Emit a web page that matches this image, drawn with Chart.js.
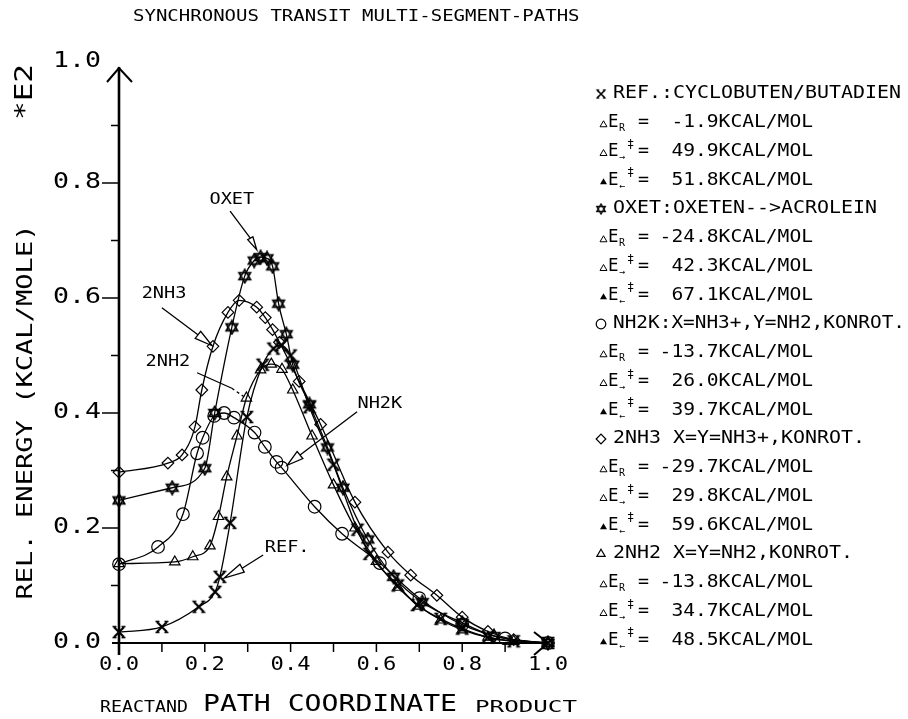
<!DOCTYPE html>
<html><head><meta charset="utf-8">
<script src="https://cdn.jsdelivr.net/npm/chart.js@4.4.1/dist/chart.umd.min.js"></script>
<style>html,body{margin:0;padding:0;background:#fff;}#wrap{position:relative;width:908px;height:719px;}</style>
</head><body><div id="wrap"><canvas id="c" width="908" height="719"></canvas></div>
<script>
// ---------- DATA ----------
const titleText = "SYNCHRONOUS TRANSIT MULTI-SEGMENT-PATHS";
const yAxisTitle = "REL. ENERGY (KCAL/MOLE)";
const yAxisScaleNote = "*E2";
const xAxisTitleLeft = "REACTAND";
const xAxisTitleMain = "PATH COORDINATE";
const xAxisTitleRight = "PRODUCT";

const xTickValues = [0.0, 0.2, 0.4, 0.6, 0.8, 1.0];
const xTickLabels = ["0.0", "0.2", "0.4", "0.6", "0.8", "1.0"];
const yTickValues = [0.0, 0.2, 0.4, 0.6, 0.8, 1.0];
const yTickLabels = ["0.0", "0.2", "0.4", "0.6", "0.8", "1.0"];

const seriesNames = ["REF.", "OXET", "NH2K", "2NH3", "2NH2"];
const legendDescs = ["REF.:CYCLOBUTEN/BUTADIEN", "OXET:OXETEN-->ACROLEIN", "NH2K:X=NH3+,Y=NH2,KONROT.", "2NH3 X=Y=NH3+,KONROT.", "2NH2 X=Y=NH2,KONROT."];
const deltaER   = ["-1.9", "-24.8", "-13.7", "-29.7", "-13.8"];
const deltaEfwd = ["49.9", "42.3", "26.0", "29.8", "34.7"];
const deltaEbwd = ["51.8", "67.1", "39.7", "59.6", "48.5"];

const refX  = [0.0, 0.1, 0.186, 0.224, 0.235, 0.259, 0.298, 0.335, 0.36, 0.378, 0.40, 0.444, 0.50, 0.556, 0.584, 0.65, 0.695, 0.75, 0.80, 0.86, 0.92, 1.0];
const refY  = [0.019, 0.028, 0.063, 0.089, 0.115, 0.209, 0.393, 0.484, 0.512, 0.518, 0.50, 0.41, 0.31, 0.197, 0.155, 0.10, 0.066, 0.042, 0.025, 0.01, 0.003, 0.0];

const oxetX = [0.0, 0.124, 0.2, 0.223, 0.263, 0.293, 0.315, 0.33, 0.345, 0.358, 0.372, 0.39, 0.405, 0.444, 0.486, 0.522, 0.58, 0.64, 0.707, 0.80, 0.874, 1.0];
const oxetY = [0.248, 0.27, 0.304, 0.40, 0.549, 0.638, 0.665, 0.671, 0.669, 0.655, 0.59, 0.537, 0.484, 0.415, 0.34, 0.27, 0.18, 0.115, 0.071, 0.035, 0.012, 0.0];

const nh2kX = [0.0, 0.091, 0.149, 0.182, 0.195, 0.222, 0.245, 0.268, 0.316, 0.34, 0.367, 0.379, 0.456, 0.52, 0.608, 0.70, 0.80, 0.90, 1.0];
const nh2kY = [0.137, 0.167, 0.224, 0.33, 0.357, 0.395, 0.40, 0.392, 0.366, 0.341, 0.315, 0.305, 0.237, 0.19, 0.139, 0.078, 0.032, 0.008, 0.0];

const nh3X  = [0.0, 0.114, 0.147, 0.177, 0.193, 0.219, 0.254, 0.28, 0.321, 0.341, 0.358, 0.374, 0.42, 0.47, 0.55, 0.627, 0.68, 0.741, 0.80, 0.86, 0.92, 1.0];
const nh3Y  = [0.297, 0.313, 0.327, 0.376, 0.44, 0.516, 0.575, 0.596, 0.584, 0.566, 0.545, 0.523, 0.455, 0.38, 0.245, 0.158, 0.118, 0.083, 0.045, 0.02, 0.006, 0.0];

const nh2X  = [0.0, 0.13, 0.172, 0.212, 0.232, 0.251, 0.275, 0.297, 0.33, 0.355, 0.38, 0.405, 0.45, 0.50, 0.55, 0.60, 0.65, 0.70, 0.75, 0.80, 0.86, 0.92, 1.0];
const nh2Y  = [0.138, 0.141, 0.15, 0.169, 0.22, 0.289, 0.36, 0.426, 0.475, 0.485, 0.476, 0.44, 0.36, 0.275, 0.2, 0.142, 0.097, 0.064, 0.04, 0.023, 0.01, 0.003, 0.0];

// ---------- STYLE / LAYOUT ----------
const FONT = 'DejaVu Sans Mono';
function makeMarker(size, draw) {
  const c = document.createElement('canvas');
  c.width = size; c.height = size;
  const g = c.getContext('2d');
  g.strokeStyle = '#000'; g.fillStyle = '#000';
  draw(g, size);
  return c;
}
const hexStar = makeMarker(16, (g, s) => {
  const cx = s / 2, cy = s / 2, r = 6.6;
  g.lineWidth = 1.7;
  for (let t = 0; t < 2; t++) {
    g.beginPath();
    for (let k = 0; k < 3; k++) {
      const a = -Math.PI / 2 + t * Math.PI + k * 2 * Math.PI / 3;
      const px = cx + r * Math.cos(a), py = cy + r * Math.sin(a);
      if (k) g.lineTo(px, py); else g.moveTo(px, py);
    }
    g.closePath(); g.stroke();
  }
});
const xBar = makeMarker(16, (g) => {
  g.lineWidth = 2.2;
  g.beginPath();
  g.moveTo(3, 3); g.lineTo(13, 13);
  g.moveTo(13, 3); g.lineTo(3, 13);
  g.stroke();
  g.lineWidth = 1.6;
  g.beginPath();
  g.moveTo(1.5, 2.5); g.lineTo(5.5, 2.5); g.moveTo(10.5, 2.5); g.lineTo(14.5, 2.5);
  g.moveTo(1.5, 13.5); g.lineTo(5.5, 13.5); g.moveTo(10.5, 13.5); g.lineTo(14.5, 13.5);
  g.stroke();
});

const seriesX = [refX, oxetX, nh2kX, nh3X, nh2X];
const seriesY = [refY, oxetY, nh2kY, nh3Y, nh2Y];
const seriesStyle = [
  { pointStyle: xBar, radius: 6 },
  { pointStyle: hexStar, radius: 6 },
  { pointStyle: 'circle', radius: 6.3 },
  { pointStyle: 'rectRot', radius: 5.8 },
  { pointStyle: 'triangle', radius: 6 }
];

const datasets = seriesNames.map((name, s) => ({
  label: name,
  data: seriesX[s].map((x, i) => ({ x: x, y: seriesY[s][i] })),
  showLine: true,
  borderColor: '#000',
  borderWidth: 1.3,
  pointStyle: seriesStyle[s].pointStyle,
  pointRadius: seriesStyle[s].radius,
  pointBorderColor: '#000',
  pointBackgroundColor: 'rgba(255,255,255,0)',
  pointBorderWidth: 1.2,
  cubicInterpolationMode: 'monotone',
  clip: false
}));

// annotation leaders (data units)
const annotations = [
  { text: "OXET", at: [0.263, 0.770], line: [[0.259, 0.751], [0.306, 0.704]], tip: [0.321, 0.684], small: true },
  { text: "2NH3", at: [0.105, 0.607], line: [[0.100, 0.583], [0.184, 0.536]], tip: [0.217, 0.517] },
  { text: "2NH2", at: [0.114, 0.489], line: [[0.182, 0.470], [0.263, 0.443]], dashTo: [0.292, 0.428] },
  { text: "NH2K", at: [0.608, 0.416], line: [[0.555, 0.402], [0.422, 0.327]], tip: [0.392, 0.309] },
  { text: "REF.", at: [0.392, 0.165], line: [[0.336, 0.153], [0.287, 0.130]], tip: [0.245, 0.113] }
];

function txt(ctx, s, x, y, size, width, align) {
  ctx.save();
  ctx.font = size + 'px "' + FONT + '"';
  ctx.textBaseline = 'middle';
  ctx.textAlign = 'left';
  const w = ctx.measureText(s).width;
  const sx = width ? width / w : 1;
  let x0 = x;
  if (align === 'center') x0 = x - w * sx / 2;
  else if (align === 'right') x0 = x - w * sx;
  ctx.translate(x0, y);
  ctx.scale(sx, 1);
  ctx.fillText(s, 0, 0);
  ctx.restore();
}

function openArrow(ctx, bx, by, tx, ty, halfW) {
  const dx = tx - bx, dy = ty - by, L = Math.hypot(dx, dy);
  const nx = -dy / L, ny = dx / L;
  ctx.beginPath();
  ctx.moveTo(bx + nx * halfW, by + ny * halfW);
  ctx.lineTo(tx, ty);
  ctx.lineTo(bx - nx * halfW, by - ny * halfW);
  ctx.closePath();
  ctx.stroke();
}

const plotterPlugin = {
  id: 'plotter',
  beforeDatasetsDraw(chart) {
    const ctx = chart.ctx, xs = chart.scales.x, ys = chart.scales.y;
    const x0 = xs.getPixelForValue(0), x1 = xs.getPixelForValue(1);
    const y0 = ys.getPixelForValue(0), y1 = ys.getPixelForValue(1);
    ctx.save();
    ctx.strokeStyle = '#000'; ctx.lineCap = 'butt';
    ctx.lineWidth = 2.6;
    ctx.beginPath(); ctx.moveTo(x0, y0 + 12); ctx.lineTo(x0, y1 - 1); ctx.stroke();
    ctx.lineWidth = 2;
    ctx.beginPath(); ctx.moveTo(x0 - 12, y1 + 14); ctx.lineTo(x0, y1); ctx.lineTo(x0 + 13, y1 + 14); ctx.stroke();
    ctx.lineWidth = 2;
    ctx.beginPath(); ctx.moveTo(x0 - 7, y0); ctx.lineTo(x1, y0); ctx.stroke();
    ctx.beginPath(); ctx.moveTo(x1 - 14, y0 - 11); ctx.lineTo(x1, y0); ctx.lineTo(x1 - 14, y0 + 12); ctx.stroke();
    ctx.lineWidth = 1.5;
    for (let k = 1; k < 10; k++) {
      const py = ys.getPixelForValue(k / 10);
      const len = (k % 2 === 0) ? 17 : 8;
      ctx.beginPath(); ctx.moveTo(x0 - len, py); ctx.lineTo(x0, py); ctx.stroke();
    }
    for (let k = 0; k < 10; k++) {
      const px = xs.getPixelForValue(k / 10);
      ctx.beginPath(); ctx.moveTo(px, y0); ctx.lineTo(px, y0 + 9); ctx.stroke();
    }
    ctx.restore();
  },
  afterDraw(chart) {
    const ctx = chart.ctx, xs = chart.scales.x, ys = chart.scales.y;
    ctx.save();
    ctx.fillStyle = '#000'; ctx.strokeStyle = '#000';
    txt(ctx, titleText, 133, 17, 15, titleText.length * 11.45, 'left');
    xTickValues.forEach((v, i) => {
      txt(ctx, xTickLabels[i], xs.getPixelForValue(v), 665, 20, 40, 'center');
    });
    yTickValues.forEach((v, i) => {
      txt(ctx, yTickLabels[i], 101, ys.getPixelForValue(v) - (i === 5 ? 6 : 0), 21, 48, 'right');
    });
    txt(ctx, xAxisTitleLeft, 100, 708, 15, 88, 'left');
    txt(ctx, xAxisTitleMain, 203, 705, 23, 254, 'left');
    txt(ctx, xAxisTitleRight, 475, 708, 15, 102, 'left');
    ctx.save();
    ctx.translate(26, 412); ctx.rotate(-Math.PI / 2);
    txt(ctx, yAxisTitle, 0, 0, 22, 375, 'center');
    ctx.restore();
    ctx.save();
    ctx.translate(26, 92); ctx.rotate(-Math.PI / 2);
    txt(ctx, yAxisScaleNote, 0, 0, 24, 56, 'center');
    ctx.restore();

    ctx.lineWidth = 1.3;
    annotations.forEach(a => {
      const lx = xs.getPixelForValue(a.at[0]), ly = ys.getPixelForValue(a.at[1]);
      txt(ctx, a.text, lx, ly, 16, a.text.length * 11.2, 'center');
      const p0 = [xs.getPixelForValue(a.line[0][0]), ys.getPixelForValue(a.line[0][1])];
      const p1 = [xs.getPixelForValue(a.line[1][0]), ys.getPixelForValue(a.line[1][1])];
      ctx.setLineDash([]);
      ctx.beginPath(); ctx.moveTo(p0[0], p0[1]); ctx.lineTo(p1[0], p1[1]); ctx.stroke();
      if (a.tip) {
        const t = [xs.getPixelForValue(a.tip[0]), ys.getPixelForValue(a.tip[1])];
        openArrow(ctx, p1[0], p1[1], t[0], t[1], a.small ? 3 : 4.5);
      }
      if (a.dashTo) {
        const t = [xs.getPixelForValue(a.dashTo[0]), ys.getPixelForValue(a.dashTo[1])];
        ctx.setLineDash([3, 3]);
        ctx.beginPath(); ctx.moveTo(p1[0], p1[1]); ctx.lineTo(t[0], t[1]); ctx.stroke();
        ctx.setLineDash([]);
      }
    });

    const LX = 601, LY0 = 94, LDY = 28.75;
    const rowsVals = [deltaER, deltaEfwd, deltaEbwd];
    const subs = ["R", "\u2192", "\u2190"];
    seriesNames.forEach((name, s) => {
      const y = LY0 + LDY * 4 * s;
      const st = seriesStyle[s];
      ctx.lineWidth = 1.2;
      if (typeof st.pointStyle === 'string') {
        ctx.fillStyle = '#fff';
        Chart.helpers.drawPoint(ctx, { pointStyle: st.pointStyle, radius: 4.8, borderWidth: 1.3, rotation: 0 }, LX, y);
        ctx.fillStyle = '#000';
      } else {
        ctx.drawImage(st.pointStyle, LX - 6, y - 6, 12, 12);
      }
      const d = legendDescs[s];
      const adv = Math.min(12, (905 - 613) / d.length);
      txt(ctx, d, 613, y, 17, d.length * adv, 'left');
      for (let r = 0; r < 3; r++) {
        const yy = y + LDY * (r + 1);
        ctx.beginPath();
        ctx.moveTo(600, yy + 4); ctx.lineTo(603.5, yy - 2); ctx.lineTo(607, yy + 4); ctx.closePath();
        if (r === 2) ctx.fill(); else { ctx.lineWidth = 1; ctx.stroke(); }
        txt(ctx, "E", 608, yy, 17, 10.5, 'left');
        txt(ctx, subs[r], 619, yy + 6, 10, null, 'left');
        if (r > 0) txt(ctx, "\u2021", 627, yy - 7, 12, null, 'left');
        txt(ctx, "=", 638, yy, 17, 11, 'left');
        const v = rowsVals[r][s] + "KCAL/MOL";
        txt(ctx, v, 813, yy, 17, v.length * 11.8, 'right');
      }
    });
    ctx.restore();
  }
};

new Chart(document.getElementById('c'), {
  type: 'scatter',
  data: { datasets: datasets },
  options: {
    responsive: false,
    animation: false,
    devicePixelRatio: 1,
    layout: { padding: { left: 119, right: 360, top: 68, bottom: 76 } },
    scales: {
      x: { type: 'linear', min: 0, max: 1, display: false },
      y: { type: 'linear', min: 0, max: 1, display: false }
    },
    plugins: { legend: { display: false }, tooltip: { enabled: false }, title: { display: false } }
  },
  plugins: [plotterPlugin]
});
</script>
</body></html>
